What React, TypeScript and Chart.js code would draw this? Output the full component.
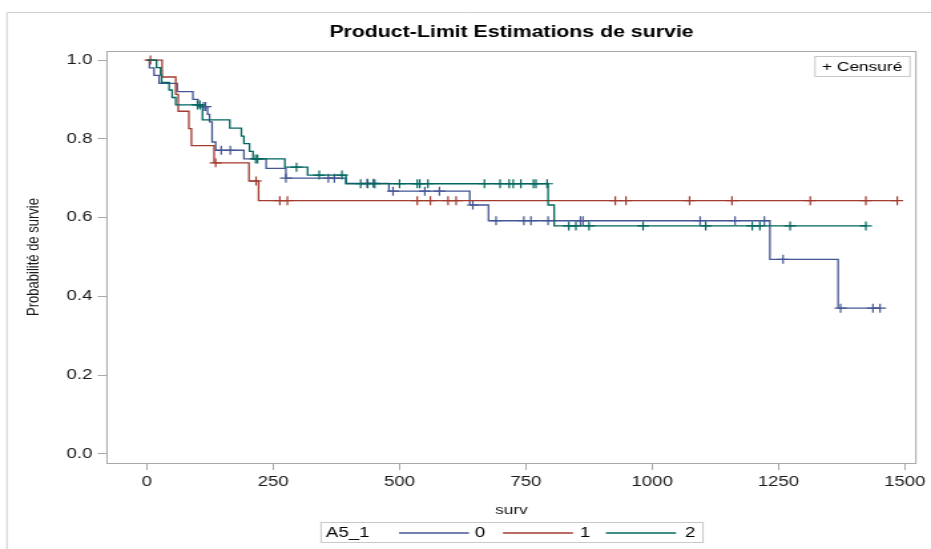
import React, { useEffect, useRef } from 'react';
import { Chart, registerables } from 'chart.js';

Chart.register(...registerables);

// ---------- data ----------
const xTicks = [0, 250, 500, 750, 1000, 1250, 1500];
const yTicks = [0, 0.2, 0.4, 0.6, 0.8, 1.0];
const groupLabels = ['0', '1', '2'];
const groupColors = ['#445694', '#A23A2E', '#01665E'];

// group 0 (blue) step points: time, survival after the step
const times0 = [0, 5, 14, 24, 60, 91, 101, 120, 124, 129, 136, 192, 236, 275, 394, 479, 639, 676, 1233, 1368, 1451];
const surv0 = [1, 0.98, 0.961, 0.941, 0.92, 0.9, 0.882, 0.862, 0.843, 0.792, 0.771, 0.749, 0.725, 0.7, 0.687, 0.667, 0.632, 0.592, 0.494, 0.37, 0.37];
const censT0 = [112, 116, 147, 165, 275, 359, 371, 436, 448, 487, 550, 579, 645, 691, 746, 760, 794, 858, 863, 1095, 1164, 1222, 1259, 1373, 1437, 1451];
const censS0 = [0.882, 0.882, 0.771, 0.771, 0.7, 0.7, 0.7, 0.687, 0.687, 0.667, 0.667, 0.667, 0.632, 0.592, 0.592, 0.592, 0.592, 0.592, 0.592, 0.592, 0.592, 0.592, 0.494, 0.37, 0.37, 0.37];

// group 1 (red)
const times1 = [0, 30, 57, 62, 83, 88, 133, 202, 221, 1485];
const surv1 = [1, 0.957, 0.913, 0.87, 0.826, 0.783, 0.739, 0.693, 0.643, 0.643];
const censT1 = [7, 136, 216, 263, 278, 535, 561, 596, 612, 927, 948, 1074, 1158, 1313, 1423, 1485];
const censS1 = [1, 0.739, 0.693, 0.643, 0.643, 0.643, 0.643, 0.643, 0.643, 0.643, 0.643, 0.643, 0.643, 0.643, 0.643, 0.643];

// group 2 (green)
const times2 = [0, 19, 27, 29, 44, 50, 57, 110, 164, 187, 192, 203, 210, 273, 318, 394, 794, 806, 1425];
const surv2 = [1, 0.981, 0.962, 0.943, 0.924, 0.905, 0.886, 0.848, 0.827, 0.807, 0.788, 0.768, 0.749, 0.728, 0.708, 0.686, 0.632, 0.579, 0.579];
const censT2 = [100, 105, 215, 219, 296, 341, 386, 423, 437, 451, 500, 535, 540, 556, 668, 699, 717, 725, 740, 765, 770, 792, 835, 849, 875, 982, 1106, 1198, 1213, 1273, 1423];
const censS2 = [0.886, 0.886, 0.749, 0.749, 0.728, 0.708, 0.708, 0.686, 0.686, 0.686, 0.686, 0.686, 0.686, 0.686, 0.686, 0.686, 0.686, 0.686, 0.686, 0.686, 0.686, 0.686, 0.579, 0.579, 0.579, 0.579, 0.579, 0.579, 0.579, 0.579, 0.579];

const stepTimes = [times0, times1, times2];
const stepSurv = [surv0, surv1, surv2];
const censTimes = [censT0, censT1, censT2];
const censSurv = [censS0, censS1, censS2];

// ---------- layout ----------
const W = 931;
const H = 549;
const NW = 700; // native canvas width, stretched to W (reference is horizontally stretched)
const K = W / NW;
const nx = (px: number) => px / K;
const FONT = "'Liberation Sans', Arial, sans-serif";

const decor = {
  id: 'decor',
  beforeDraw(chart: any) {
    const { ctx } = chart;
    ctx.save();
    ctx.fillStyle = '#ffffff';
    ctx.fillRect(0, 0, chart.width, chart.height);
    ctx.restore();
  },
  afterDraw(chart: any) {
    const { ctx, chartArea: a } = chart;
    ctx.save();
    // outer border
    ctx.strokeStyle = '#cfcfcf';
    ctx.lineWidth = 1;
    ctx.beginPath();
    ctx.moveTo(nx(7), H);
    ctx.lineTo(nx(7), 12.5);
    ctx.lineTo(NW, 12.5);
    ctx.stroke();
    // plot frame
    ctx.strokeStyle = '#a8a8a8';
    ctx.strokeRect(a.left, Math.round(a.top) + 0.5, a.right - a.left, Math.round(a.bottom - a.top));
    // title
    ctx.fillStyle = '#000';
    ctx.font = `bold 16px ${FONT}`;
    ctx.textAlign = 'center';
    ctx.textBaseline = 'middle';
    ctx.fillText('Product-Limit Estimations de survie', (a.left + a.right) / 2, 33);
    // censored legend (inset)
    ctx.strokeStyle = '#c8c8c8';
    ctx.strokeRect(nx(815), 56.5, nx(910) - nx(815), 20);
    ctx.font = `13px ${FONT}`;
    ctx.textAlign = 'left';
    ctx.fillStyle = '#000';
    ctx.fillText('+ Censuré', nx(822), 67);
    // bottom legend
    ctx.strokeStyle = '#c8c8c8';
    ctx.strokeRect(nx(321), 522.5, nx(703) - nx(321), 20);
    ctx.font = `14px ${FONT}`;
    ctx.fillStyle = '#000';
    ctx.textAlign = 'left';
    ctx.fillText('A5_1', nx(326), 533);
    const lineStarts = [399, 503, 606];
    const labelX = [480, 585, 690];
    for (let i = 0; i < groupLabels.length; i++) {
      ctx.strokeStyle = groupColors[i];
      ctx.lineWidth = 1.3;
      ctx.beginPath();
      ctx.moveTo(nx(lineStarts[i]), 533);
      ctx.lineTo(nx(lineStarts[i] + 70), 533);
      ctx.stroke();
      ctx.textAlign = 'center';
      ctx.fillStyle = '#000';
      ctx.fillText(groupLabels[i], nx(labelX[i]), 533);
    }
    ctx.restore();
  },
};

export default function App() {
  const ref = useRef<HTMLCanvasElement>(null);

  useEffect(() => {
    if (!ref.current) return;
    Chart.defaults.font.family = FONT;
    const datasets: any[] = [];
    for (let g = 0; g < 3; g++) {
      datasets.push({
        type: 'line',
        label: groupLabels[g],
        data: stepTimes[g].map((t, i) => ({ x: t, y: stepSurv[g][i] })),
        stepped: 'before',
        borderColor: groupColors[g],
        backgroundColor: groupColors[g],
        borderWidth: 1.3,
        pointRadius: 0,
        fill: false,
        order: 6 - g * 2,
      });
      datasets.push({
        type: 'scatter',
        label: 'Censuré ' + groupLabels[g],
        data: censTimes[g].map((t, i) => ({ x: t, y: censSurv[g][i] })),
        pointStyle: 'cross',
        pointRadius: 4.5,
        borderColor: groupColors[g],
        backgroundColor: groupColors[g],
        borderWidth: 1.2,
        showLine: false,
        order: 5 - g * 2,
      });
    }

    const chart = new Chart(ref.current, {
      type: 'line',
      data: { datasets },
      plugins: [decor],
      options: {
        responsive: false,
        devicePixelRatio: 1,
        animation: false,
        events: [],
        layout: { padding: { left: 0, right: NW - nx(919), top: 51, bottom: 0 } },
        plugins: {
          legend: { display: false },
          title: { display: false },
          tooltip: { enabled: false },
        },
        scales: {
          x: {
            type: 'linear',
            min: -79,
            max: 1522,
            afterBuildTicks: (s: any) => {
              s.ticks = xTicks.map((v) => ({ value: v }));
            },
            afterFit: (s: any) => {
              s.height = H - 463;
            },
            grid: { drawOnChartArea: false, drawTicks: true, tickLength: 7, color: '#a8a8a8' },
            border: { display: false },
            ticks: {
              font: { size: 14 },
              color: '#1a1a1a',
              padding: 4,
              maxRotation: 0,
              autoSkip: false,
              callback: (v: any) => String(v),
            },
            title: {
              display: true,
              text: 'surv',
              color: '#1a1a1a',
              font: { size: 13 },
              padding: { top: 4, bottom: 31 },
            },
          },
          y: {
            type: 'linear',
            min: -0.023,
            max: 1.023,
            afterBuildTicks: (s: any) => {
              s.ticks = yTicks.map((v) => ({ value: v }));
            },
            afterFit: (s: any) => {
              s.width = nx(107);
            },
            grid: { drawOnChartArea: false, drawTicks: true, tickLength: 7, color: '#a8a8a8' },
            border: { display: false },
            ticks: {
              font: { size: 14 },
              color: '#1a1a1a',
              padding: 4,
              callback: (v: any) => Number(v).toFixed(1),
            },
            title: {
              display: true,
              text: 'Probabilité de survie',
              color: '#1a1a1a',
              font: { size: 13 },
              padding: { top: 18, bottom: 0 },
            },
          },
        },
      },
    } as any);
    return () => chart.destroy();
  }, []);

  return (
    <div style={{ position: 'fixed', left: 0, top: 0, width: W, height: H, background: '#fff' }}>
      <canvas ref={ref} width={NW} height={H} style={{ width: W + 'px', height: H + 'px', display: 'block' }} />
    </div>
  );
}
